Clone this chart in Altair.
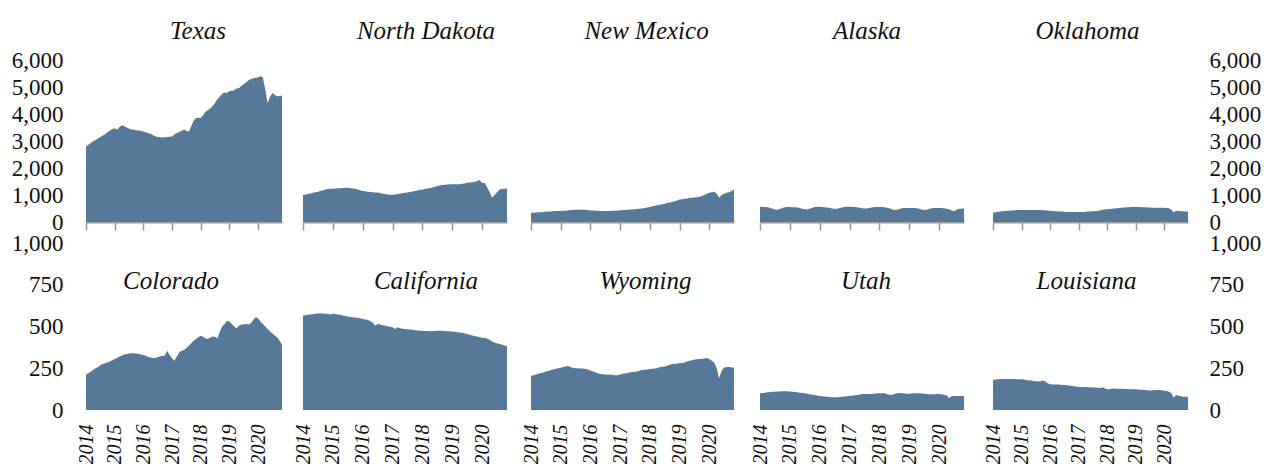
import altair as alt
import pandas as pd

# ---------------- data (thousand barrels per day, monthly Jan 2014 - Nov 2020) ----------------
start_year = 2014
n_months = 83
year_ticks = [2014, 2015, 2016, 2017, 2018, 2019, 2020]
top_ticks = [0, 1000, 2000, 3000, 4000, 5000, 6000]
bottom_ticks = [0, 250, 500, 750, 1000]

top_states = ["Texas", "North Dakota", "New Mexico", "Alaska", "Oklahoma"]
bottom_states = ["Colorado", "California", "Wyoming", "Utah", "Louisiana"]

texas = [2800, 2860, 2930, 2990, 3040, 3090, 3150, 3200, 3250, 3330, 3380, 3440,
         3470, 3420, 3520, 3580, 3550, 3500, 3460, 3430, 3420, 3400, 3390, 3380,
         3350, 3320, 3300, 3260, 3220, 3180, 3150, 3140, 3130, 3140, 3150, 3160,
         3170, 3240, 3300, 3330, 3380, 3420, 3380, 3340, 3550, 3750, 3850, 3860,
         3850, 3950, 4080, 4150, 4200, 4300, 4420, 4550, 4650, 4750, 4800, 4780,
         4850, 4860, 4880, 4950, 4950, 5050, 5100, 5180, 5250, 5300, 5320, 5340,
         5360, 5400, 5350, 4900, 4400, 4650, 4780, 4700, 4650, 4680, 4680]
north_dakota = [1000, 1020, 1040, 1060, 1080, 1100, 1120, 1150, 1170, 1200, 1220, 1230,
                1230, 1240, 1250, 1250, 1260, 1265, 1270, 1260, 1245, 1230, 1200, 1180,
                1150, 1140, 1120, 1110, 1100, 1095, 1090, 1070, 1050, 1040, 1020, 1010,
                1010, 1020, 1040, 1050, 1070, 1080, 1090, 1110, 1130, 1150, 1170, 1190,
                1200, 1220, 1240, 1250, 1280, 1300, 1330, 1350, 1370, 1380, 1390, 1400,
                1400, 1400, 1400, 1400, 1420, 1430, 1450, 1460, 1470, 1480, 1520, 1560,
                1440, 1450, 1300, 1100, 900, 1000, 1100, 1200, 1220, 1230, 1230]
new_mexico = [340, 345, 355, 360, 365, 370, 380, 385, 390, 400, 405, 410,
              410, 415, 420, 430, 440, 445, 450, 455, 455, 450, 450, 440,
              430, 425, 420, 415, 410, 405, 400, 405, 410, 415, 420, 430,
              430, 440, 445, 450, 460, 465, 470, 480, 490, 500, 520, 540,
              560, 580, 600, 620, 640, 660, 680, 700, 720, 740, 770, 800,
              830, 840, 860, 870, 890, 900, 910, 920, 930, 960, 1000, 1050,
              1080, 1100, 1120, 1050, 900, 1000, 1050, 1080, 1100, 1150, 1200]
alaska = [565, 560, 555, 545, 525, 495, 460, 450, 480, 520, 545, 555,
          555, 550, 545, 535, 520, 490, 470, 460, 490, 530, 555, 565,
          567, 560, 550, 535, 515, 500, 490, 495, 515, 540, 560, 567,
          567, 565, 560, 545, 530, 510, 500, 500, 515, 540, 555, 560,
          560, 555, 545, 530, 505, 470, 445, 450, 480, 510, 520, 520,
          520, 520, 518, 505, 490, 465, 445, 450, 480, 505, 515, 518,
          518, 515, 505, 490, 470, 430, 400, 450, 490, 495, 500]
oklahoma = [346, 360, 375, 390, 400, 410, 420, 425, 430, 435, 440, 440,
            440, 442, 445, 445, 444, 443, 442, 440, 440, 438, 435, 430,
            420, 410, 400, 395, 390, 385, 380, 375, 372, 370, 370, 370,
            370, 372, 375, 380, 385, 390, 395, 400, 410, 430, 450, 460,
            470, 480, 490, 500, 510, 520, 530, 540, 545, 550, 555, 560,
            560, 560, 555, 550, 545, 540, 535, 530, 530, 528, 525, 525,
            525, 520, 510, 450, 350, 420, 410, 400, 395, 392, 390]
colorado = [213, 220, 230, 240, 250, 258, 268, 275, 280, 285, 290, 298,
            305, 312, 320, 326, 332, 336, 338, 340, 340, 338, 336, 332,
            330, 325, 318, 314, 312, 312, 316, 322, 324, 326, 355, 330,
            310, 296, 320, 345, 355, 360, 372, 385, 400, 415, 425, 435,
            445, 438, 428, 425, 432, 440, 438, 428, 470, 500, 515, 535,
            530, 515, 500, 490, 505, 512, 512, 515, 512, 520, 540, 555,
            550, 530, 515, 500, 485, 470, 458, 445, 435, 415, 390]
california = [566, 568, 570, 572, 574, 576, 578, 578, 578, 577, 575, 572,
              577, 575, 572, 570, 566, 563, 560, 557, 555, 553, 552, 550,
              545, 542, 540, 532, 524, 505, 515, 512, 508, 505, 502, 498,
              495, 485, 495, 490, 487, 485, 483, 482, 480, 478, 476, 474,
              473, 473, 473, 472, 473, 473, 474, 475, 475, 473, 472, 471,
              470, 468, 466, 464, 462, 458, 455, 451, 446, 443, 440, 436,
              433, 431, 428, 420, 410, 403, 399, 395, 391, 386, 381]
wyoming = [203, 208, 212, 217, 221, 225, 230, 234, 239, 243, 247, 250,
           253, 257, 261, 263, 258, 252, 250, 250, 249, 248, 245, 242,
           236, 230, 226, 220, 216, 214, 212, 211, 212, 210, 208, 208,
           212, 218, 219, 222, 226, 228, 229, 232, 236, 239, 241, 243,
           245, 247, 249, 252, 256, 259, 261, 265, 271, 275, 276, 278,
           280, 282, 285, 290, 294, 298, 302, 304, 305, 306, 309, 312,
           305, 295, 285, 250, 190, 235, 255, 258, 257, 255, 254]
utah = [100, 102, 104, 106, 108, 110, 110, 111, 111, 112, 112, 112,
        111, 110, 108, 106, 104, 102, 100, 97, 94, 92, 90, 87,
        84, 83, 81, 80, 78, 76, 76, 77, 78, 80, 81, 83,
        84, 86, 88, 90, 93, 96, 96, 96, 96, 96, 98, 100,
        100, 101, 102, 95, 92, 90, 96, 100, 102, 100, 99, 98,
        98, 99, 100, 100, 100, 99, 98, 96, 94, 94, 95, 96,
        96, 95, 92, 88, 70, 82, 84, 84, 84, 84, 84]
louisiana = [180, 182, 184, 185, 186, 186, 186, 185, 185, 185, 184, 184,
             184, 183, 180, 177, 176, 174, 172, 170, 172, 176, 170, 160,
             154, 153, 153, 152, 152, 150, 149, 148, 146, 144, 142, 140,
             138, 138, 137, 137, 136, 136, 135, 134, 133, 132, 136, 130,
             124, 125, 128, 128, 127, 127, 127, 126, 126, 126, 125, 124,
             124, 123, 122, 121, 120, 118, 116, 118, 120, 120, 120, 118,
             116, 114, 110, 100, 74, 90, 85, 82, 80, 80, 80]

series = {
    "Texas": texas, "North Dakota": north_dakota, "New Mexico": new_mexico,
    "Alaska": alaska, "Oklahoma": oklahoma, "Colorado": colorado,
    "California": california, "Wyoming": wyoming, "Utah": utah, "Louisiana": louisiana,
}

rows = []
for st, vals in series.items():
    for m, v in enumerate(vals):
        rows.append({"state": st, "t": start_year + m / 12.0, "value": v})
df = pd.DataFrame(rows)

# ---------------- styling ----------------
FONT = "Liberation Serif"
AREA = "#56799a"
GREY = "#9a9a9a"
INK = "#111111"

widths = [196, 204, 203, 204, 195]
gaps = [21, 24, 26, 29]
top_h, bottom_h = 162, 167
top_title_dx = [14, 21, 14, 5, -3]
bottom_title_dx = [-13, 21, 13, 4, -4]

x_dom = [start_year, start_year + (n_months - 1) / 12.0]


def y_axis(kind, ticks):
    if kind == "none":
        return None
    return alt.Axis(values=ticks, format=",d", orient=kind, domain=False, ticks=False,
                    tickSize=0, grid=False, title=None, labelFont=FONT, labelFontSize=23,
                    labelColor=INK, labelPadding=23 if kind == "left" else 21,
                    labelOverlap=False)


def x_axis(row):
    if row == "top":
        return alt.Axis(values=year_ticks, labels=False, ticks=True, tickSize=8,
                        tickColor=GREY, tickWidth=1.5, domain=True, domainColor=GREY,
                        domainWidth=2, grid=False, title=None)
    return alt.Axis(values=year_ticks, format="d", labelAngle=270, labelFont=FONT,
                    labelFontStyle="italic", labelFontSize=20, labelColor=INK,
                    labelPadding=14, ticks=False, tickSize=0, domain=False, grid=False,
                    title=None, labelOverlap=False, labelFlush=False)


def panel(state, w, h, ymax, ticks, row, kind, dx, ty):
    area = alt.Chart(df).transform_filter(alt.datum.state == state).mark_area(
        color=AREA, opacity=1
    ).encode(
        x=alt.X("t:Q", scale=alt.Scale(domain=x_dom, nice=False, zero=False), axis=x_axis(row)),
        y=alt.Y("value:Q", scale=alt.Scale(domain=[0, ymax], nice=False), axis=y_axis(kind, ticks)),
    )
    label = alt.Chart(pd.DataFrame({"name": [state]})).mark_text(
        font=FONT, fontStyle="italic", fontSize=25, align="center",
        baseline="alphabetic", color=INK
    ).encode(text="name:N", x=alt.value(w / 2 + dx), y=alt.value(ty))
    return alt.layer(area, label).properties(width=w, height=h)


def spacer(w, h):
    return alt.Chart(pd.DataFrame({"z": [0]})).mark_point(opacity=0).encode(
        x=alt.value(0), y=alt.value(0)
    ).properties(width=w, height=h)


def row_items(states, h, ymax, ticks, row, dxs, ty):
    items = []
    for i, st in enumerate(states):
        kind = "left" if i == 0 else ("right" if i == len(states) - 1 else "none")
        items.append(panel(st, widths[i], h, ymax, ticks, row, kind, dxs[i], ty))
        if i < len(gaps):
            items.append(spacer(gaps[i], h))
    return items


cells = (row_items(top_states, top_h, 6000, top_ticks, "top", top_title_dx, -21.5)
         + row_items(bottom_states, bottom_h, 1000, bottom_ticks, "bottom", bottom_title_dx, 46))

chart = alt.concat(*cells, columns=9, spacing={"row": 21, "column": 0},
                   bounds="flush", align="each").properties(
    padding={"left": 3, "top": 10, "right": 5, "bottom": 0},
    background="white",
).configure_view(stroke="transparent", strokeWidth=0)

chart.save("out.html", embed_options={"renderer": "svg", "actions": False})
